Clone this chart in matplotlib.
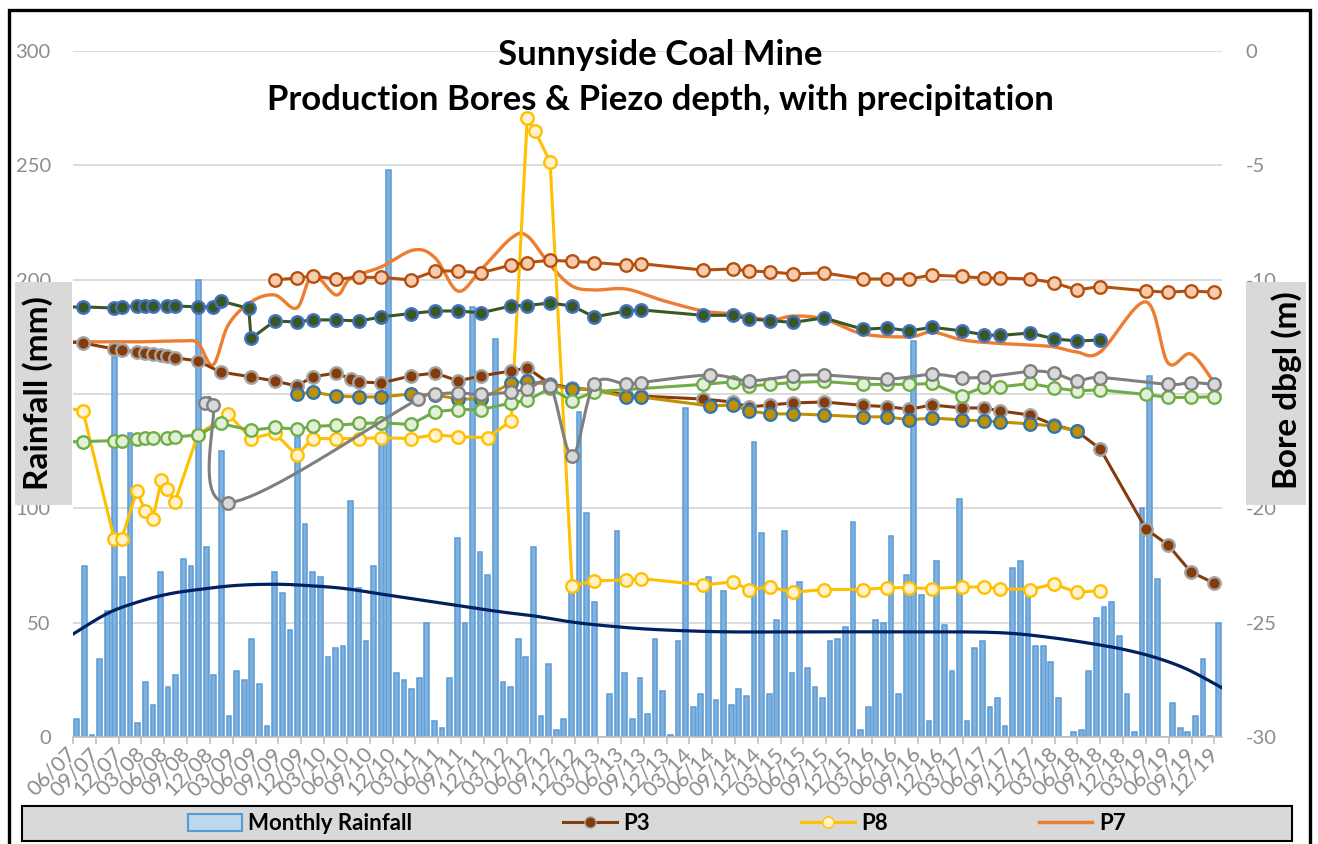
import numpy as np
import matplotlib
matplotlib.use("Agg")
import matplotlib.pyplot as plt
from matplotlib.patches import Rectangle, Patch
from matplotlib.lines import Line2D

plt.rcParams['font.family'] = ['Lato', 'DejaVu Sans']

# x axis is in months counted from June 2007 (0 = 06/07 ... 150 = 12/19)
tick_labels = ["06/07", "09/07", "12/07",
               "03/08", "06/08", "09/08", "12/08",
               "03/09", "06/09", "09/09", "12/09",
               "03/10", "06/10", "09/10", "12/10",
               "03/11", "06/11", "09/11", "12/11",
               "03/12", "06/12", "09/12", "12/12",
               "03/13", "06/13", "09/13", "12/13",
               "03/14", "06/14", "09/14", "12/14",
               "03/15", "06/15", "09/15", "12/15",
               "03/16", "06/16", "09/16", "12/16",
               "03/17", "06/17", "09/17", "12/17",
               "03/18", "06/18", "09/18", "12/18",
               "03/19", "06/19", "09/19", "12/19"]

# axis tick labels (the "150" and "-15" ones sit under the axis title boxes)
rain_ticks = [0, 50, 100, 150, 200, 250, 300]
rain_tick_labels = ["0", "50", "100", "", "200", "250", "300"]
depth_ticks = [-30, -25, -20, -15, -10, -5, 0]
depth_tick_labels = ["-30", "-25", "-20", "", "-10", "-5", "0"]

# monthly rainfall (mm), one value per month from 06/07
rain = [8, 75, 1, 34, 55, 166, 70, 133, 6, 24,
        14, 72, 22, 27, 78, 75, 200, 83, 27, 125,
        9, 29, 25, 43, 23, 5, 72, 63, 47, 131,
        93, 72, 70, 35, 39, 40, 103, 65, 42, 75,
        130, 248, 28, 25, 21, 26, 50, 7, 4, 26,
        87, 50, 188, 81, 71, 174, 24, 22, 43, 35,
        83, 9, 32, 3, 8, 65, 142, 98, 59, 0,
        19, 90, 28, 8, 26, 10, 43, 20, 1, 42,
        144, 13, 19, 70, 16, 64, 14, 21, 18, 129,
        89, 19, 51, 90, 28, 68, 30, 22, 17, 42,
        43, 48, 94, 3, 13, 51, 50, 88, 19, 71,
        173, 62, 7, 77, 49, 29, 104, 7, 39, 42,
        13, 17, 5, 74, 77, 62, 40, 40, 33, 17,
        0, 2, 3, 29, 52, 57, 59, 44, 19, 2,
        100, 158, 69, 0, 15, 4, 2, 9, 34, 0.5,
        50]

# rainfall trend line (month, mm)
trend = [(-0.5, 45), (4, 54), (8, 59), (12, 62.5), (16, 64.5), (21, 66.3), (26, 66.8),
         (30, 66.3), (35, 65), (40, 62.5), (46, 59.5), (52, 56.5), (56, 54.6), (60, 53),
         (65, 50.3), (70, 48.5), (76, 47), (85, 46), (95, 46), (105, 46), (115, 46),
         (122, 45.5), (128, 43.5), (134, 40.5), (138, 38), (142, 34.5), (146, 29.5),
         (150.5, 21.5)]

# bore / piezo depths (month, m below ground)
p3 = [(-2.0, -12.7), (0.8, -12.77), (4.9, -13.03), (5.9, -13.07), (7.9, -13.16), (9.0, -13.21),
      (10.0, -13.23), (11.1, -13.29), (11.9, -13.34), (12.9, -13.42), (15.9, -13.55),
      (18.9, -14.04), (22.9, -14.25), (26.0, -14.43), (28.9, -14.65), (31.0, -14.25),
      (34.1, -14.08), (36.0, -14.34), (37.1, -14.47), (40.0, -14.52), (43.9, -14.21),
      (47.1, -14.08), (50.1, -14.43), (53.1, -14.21), (57.1, -13.99), (59.2, -13.86),
      (62.2, -14.56), (65.1, -14.74), (68.0, -14.82), (72.2, -15.04), (74.1, -15.09),
      (82.3, -15.22), (86.2, -15.35), (88.3, -15.57), (91.1, -15.48), (94.1, -15.39),
      (98.2, -15.35), (103.3, -15.5), (106.5, -15.55), (109.4, -15.67), (112.4, -15.48),
      (116.3, -15.61), (119.2, -15.61), (121.3, -15.74), (125.3, -15.92), (128.4, -16.35),
      (131.4, -16.62), (134.5, -17.4), (140.5, -20.9), (143.4, -21.6), (146.4, -22.78),
      (149.4, -23.26)]

p8 = [(-1.5, -15.6), (0.8, -15.73), (4.9, -21.32), (5.9, -21.32), (7.9, -19.23), (9.0, -20.13),
      (10.0, -20.46), (11.1, -18.77), (11.9, -19.15), (12.9, -19.72), (15.9, -16.78),
      (19.9, -15.88), (22.9, -16.95), (26.0, -16.7), (28.9, -17.68), (31.0, -16.95),
      (34.1, -16.95), (37.1, -16.95), (40.0, -16.91), (43.9, -16.95), (47.1, -16.78),
      (50.1, -16.87), (54.0, -16.91), (57.1, -16.17), (59.2, -2.93), (60.2, -3.49),
      (62.2, -4.84), (65.1, -23.39), (68.0, -23.17), (72.2, -23.13), (74.1, -23.07),
      (82.3, -23.35), (86.2, -23.22), (88.3, -23.55), (91.1, -23.44), (94.1, -23.67),
      (98.2, -23.55), (103.3, -23.55), (106.5, -23.47), (109.4, -23.47), (112.4, -23.51),
      (116.3, -23.44), (119.2, -23.44), (121.3, -23.52), (125.3, -23.55), (128.4, -23.31),
      (131.4, -23.67), (134.5, -23.6)]

p7 = [(-2.0, -12.72), (0.8, -12.72), (7.7, -12.72), (13.7, -12.68), (15.9, -12.77),
      (17.9, -13.73), (19.9, -11.98), (22.9, -10.97), (26.0, -10.67), (28.9, -11.24),
      (31.0, -9.8), (34.1, -10.67), (36.0, -9.93), (40.0, -9.44), (44.3, -8.7),
      (47.1, -9.05), (50.1, -10.5), (53.1, -9.57), (57.1, -8.18), (59.2, -8.09),
      (62.2, -9.36), (65.1, -10.28), (68.0, -10.45), (72.2, -10.41), (76.8, -10.89),
      (82.3, -11.37), (86.2, -11.5), (91.1, -11.76), (94.1, -11.59), (98.2, -11.72),
      (103.3, -12.37), (109.4, -12.5), (112.4, -12.29), (116.3, -12.63), (120.4, -12.77),
      (125.3, -12.86), (128.4, -12.94), (131.4, -13.16), (134.5, -13.16), (140.5, -10.97),
      (143.4, -13.64), (146.4, -13.25), (149.4, -14.47)]

bore_gold = [(28.9, -15.02), (31.0, -14.91), (34.1, -15.09), (37.1, -15.13), (40.0, -15.13),
             (43.9, -15.0), (47.1, -15.04), (50.1, -15.22), (53.1, -15.22), (57.1, -14.52),
             (59.2, -14.43), (62.2, -14.6), (65.1, -14.78), (68.0, -14.82), (72.2, -15.13),
             (74.1, -15.13), (83.2, -15.52), (86.2, -15.48), (88.3, -15.74), (91.1, -15.87),
             (94.1, -15.87), (98.2, -15.92), (103.3, -16.0), (106.5, -16.0), (109.4, -16.13),
             (112.4, -16.05), (116.3, -16.13), (119.2, -16.18), (121.3, -16.22), (125.3, -16.31),
             (128.4, -16.4), (131.4, -16.62)]

bore_pink = [(26.0, -10.01), (28.9, -9.93), (31.0, -9.84), (34.1, -9.97), (37.1, -9.9),
             (40.0, -9.9), (43.9, -10.01), (47.1, -9.62), (50.1, -9.62), (53.1, -9.7),
             (57.1, -9.36), (59.2, -9.25), (62.2, -9.15), (65.1, -9.2), (68.0, -9.25),
             (72.2, -9.36), (74.1, -9.3), (82.3, -9.58), (86.2, -9.53), (88.3, -9.62),
             (91.1, -9.66), (94.1, -9.75), (98.2, -9.7), (103.3, -9.97), (106.5, -9.97),
             (109.4, -9.97), (112.4, -9.8), (116.3, -9.86), (119.2, -9.93), (121.3, -9.93),
             (125.3, -9.97), (128.4, -10.13), (131.4, -10.45), (134.5, -10.3), (140.5, -10.49),
             (143.4, -10.55), (146.4, -10.49), (149.4, -10.55)]

bore_dkgreen = [(-2.0, -11.2), (0.8, -11.19), (4.9, -11.24), (5.9, -11.19), (7.9, -11.15),
                (9.0, -11.15), (10.0, -11.15), (11.9, -11.15), (12.9, -11.15), (15.9, -11.19),
                (17.9, -11.19), (18.9, -10.93), (22.6, -11.26), (22.9, -12.57), (26.0, -11.81),
                (28.9, -11.85), (31.0, -11.76), (34.1, -11.76), (37.1, -11.81), (40.0, -11.63),
                (43.9, -11.48), (47.1, -11.37), (50.1, -11.37), (53.1, -11.45), (57.1, -11.15),
                (59.2, -11.13), (62.2, -11.02), (65.1, -11.15), (68.0, -11.63), (72.2, -11.37),
                (74.1, -11.32), (82.3, -11.56), (86.2, -11.56), (88.3, -11.72), (91.1, -11.79),
                (94.1, -11.87), (98.2, -11.67), (103.3, -12.17), (106.5, -12.11), (109.4, -12.24),
                (112.4, -12.08), (116.3, -12.24), (119.2, -12.41), (121.3, -12.44), (125.3, -12.33),
                (128.4, -12.59), (131.4, -12.68), (134.5, -12.64)]

bore_grey = [(16.8, -15.39), (17.9, -15.5), (19.9, -19.75), (44.8, -15.24), (47.1, -15.02),
             (50.1, -14.95), (53.1, -15.02), (57.1, -14.91), (59.2, -14.79), (62.2, -14.63),
             (65.1, -17.71), (68.0, -14.58), (72.2, -14.58), (74.1, -14.5), (83.2, -14.17),
             (88.3, -14.42), (94.1, -14.21), (98.2, -14.17), (106.5, -14.34), (112.4, -14.14),
             (116.3, -14.28), (119.2, -14.26), (125.3, -14.01), (128.4, -14.09), (131.4, -14.42),
             (134.5, -14.28), (143.4, -14.58), (146.4, -14.5), (149.4, -14.58)]

bore_ltgreen = [(-2.0, -17.1), (0.8, -17.08), (4.9, -17.04), (5.9, -17.04), (7.9, -16.97),
                (9.0, -16.92), (10.0, -16.92), (11.9, -16.92), (12.9, -16.88), (15.9, -16.79),
                (18.9, -16.29), (22.9, -16.59), (26.0, -16.46), (28.9, -16.54), (31.0, -16.42),
                (34.1, -16.37), (37.1, -16.29), (40.0, -16.26), (43.9, -16.33), (47.1, -15.77),
                (50.1, -15.68), (53.1, -15.68), (57.1, -15.39), (59.2, -15.28), (62.2, -14.75),
                (65.1, -15.3), (68.0, -14.9), (82.3, -14.58), (86.2, -14.47), (88.3, -14.65),
                (91.1, -14.58), (94.1, -14.5), (98.2, -14.45), (103.3, -14.58), (106.5, -14.58),
                (109.4, -14.58), (112.4, -14.54), (116.3, -15.07), (119.2, -14.69), (121.3, -14.69),
                (125.3, -14.54), (128.4, -14.73), (131.4, -14.86), (134.5, -14.82), (140.5, -15.02),
                (143.4, -15.15), (146.4, -15.15), (149.4, -15.12)]


def smooth(pts, sx, sy, n=20):
    # Excel-like smoothed line: Catmull-Rom bezier done in pixel space
    P = np.array(pts, dtype=float) * [sx, sy]
    P = np.vstack([P[0], P, P[-1]])
    out = []
    t = np.linspace(0, 1, n)[:, None]
    for i in range(1, len(P) - 2):
        p0, p1, p2, p3_ = P[i - 1], P[i], P[i + 1], P[i + 2]
        c1 = p1 + (p2 - p0) / 6
        c2 = p2 - (p3_ - p1) / 6
        seg = (1 - t) ** 3 * p1 + 3 * (1 - t) ** 2 * t * c1 + 3 * (1 - t) * t ** 2 * c2 + t ** 3 * p2
        out.append(seg if i == 1 else seg[1:])
    out = np.vstack(out)
    return out[:, 0] / sx, out[:, 1] / sy


W, H = 1318, 844
fig = plt.figure(figsize=(W / 100, H / 100), dpi=100)
ax = fig.add_axes([73 / W, 107 / H, 1149 / W, 686 / H])

grey_txt = '#8c8c8c'

# rainfall bars
months = np.arange(len(rain))
ax.bar(months, rain, width=0.62, color='#7fb1e0', edgecolor='#5b9bd5', linewidth=1.1, zorder=2)

tx, ty = smooth(trend, 7.61, 2.287)
ax.plot(tx, ty, color='#002060', lw=2.3, zorder=3)

ax.set_xlim(-0.5, 150.5)
ax.set_ylim(0, 300)
ax.set_yticks(rain_ticks)
ax.set_yticklabels(rain_tick_labels)
ax.yaxis.grid(True, color='#d9d9d9', lw=1.3)
ax.set_axisbelow(True)
for s in ['top', 'right', 'left']:
    ax.spines[s].set_visible(False)
ax.spines['bottom'].set_color('#bfbfbf')
ax.spines['bottom'].set_linewidth(1.2)
ax.set_xticks(np.arange(0, 151, 3) - 0.5)
ax.set_xticklabels(tick_labels, rotation=45, ha='right', va='center', rotation_mode='anchor',
                   fontsize=15.5, color=grey_txt)
ax.tick_params(axis='x', length=5, color='#bfbfbf', width=1.2, pad=5)
ax.tick_params(axis='y', length=0, pad=16, labelsize=14.5, labelcolor=grey_txt)

# depth axis
ax2 = ax.twinx()
ax2.set_ylim(-30, 0)
ax2.set_yticks(depth_ticks)
ax2.set_yticklabels(depth_tick_labels)
ax2.tick_params(axis='y', length=0, pad=17, labelsize=14.5, labelcolor=grey_txt)
for s in ax2.spines.values():
    s.set_visible(False)


def marked(pts, line, fill, edge, ms=9):
    x, y = zip(*pts)
    ax2.plot(x, y, color=line, lw=2.2, marker='o', ms=ms, mfc=fill, mec=edge, mew=1.7)


x7, y7 = smooth(p7, 7.61, 22.87)
ax2.plot(x7, y7, color='#ed7d31', lw=2.4)
marked(p8, '#ffc000', '#fff2cc', '#ffc000')
marked(p3, '#843c0c', '#843c0c', '#a5a5a5')
marked(bore_gold, '#bf9000', '#bf9000', '#2e75b6')
marked(bore_ltgreen, '#70ad47', '#e2f0d9', '#70ad47')
gx, gy = smooth(bore_grey, 7.61, 22.87)
ax2.plot(gx, gy, color='#7f7f7f', lw=2.2)
bx, by = zip(*bore_grey)
ax2.plot(bx, by, ls='none', marker='o', ms=9, mfc='#d9d9d9', mec='#7f7f7f', mew=1.7)
marked(bore_dkgreen, '#385723', '#385723', '#4472c4')
marked(bore_pink, '#b4500f', '#f8cbad', '#b4500f')

# title
fig.text(660 / W, 1 - 55 / H, "Sunnyside Coal Mine", ha='center', va='center',
         fontsize=25, fontweight='bold')
fig.text(660 / W, 1 - 100 / H, "Production Bores & Piezo depth, with precipitation",
         ha='center', va='center', fontsize=25, fontweight='bold')

# axis title boxes
fig.add_artist(Rectangle((15 / W, 1 - 505 / H), 57 / W, 223 / H, transform=fig.transFigure,
                         fc='#d9d9d9', ec='none', zorder=3))
fig.text(38 / W, 1 - 393 / H, "Rainfall (mm)", rotation=90, ha='center', va='center',
         fontsize=24, fontweight='bold', zorder=4)
fig.add_artist(Rectangle((1246 / W, 1 - 505 / H), 60 / W, 223 / H, transform=fig.transFigure,
                         fc='#d9d9d9', ec='none', zorder=3))
fig.text(1287 / W, 1 - 390 / H, "Bore dbgl (m)", rotation=90, ha='center', va='center',
         fontsize=24, fontweight='bold', zorder=4)

# legend strip
fig.add_artist(Rectangle((22 / W, 3 / H), 1270 / W, 35 / H, transform=fig.transFigure,
                         fc='#d9d9d9', ec='black', lw=1.5, zorder=1))
handles = [Patch(facecolor='#bdd7ee', edgecolor='#5b9bd5', lw=1.5),
           Line2D([], [], color='#843c0c', lw=2.2, marker='o', ms=8, mfc='#843c0c', mec='#a5a5a5'),
           Line2D([], [], color='#ffc000', lw=2.2, marker='o', ms=8, mfc='#fff2cc', mec='#ffc000'),
           Line2D([], [], color='#ed7d31', lw=2.5)]
fig.legend(handles, ["Monthly Rainfall", "P3", "P8", "P7"], loc='center',
           bbox_to_anchor=(657 / W, 1 - 824 / H), ncol=4, frameon=False,
           prop=dict(weight='bold', size=16), handlelength=2.4, handleheight=0.8,
           columnspacing=6.8, handletextpad=0.3)

# outer chart border
fig.add_artist(Rectangle((9 / W, -0.02), 1301 / W, 1 - 10 / H + 0.02, transform=fig.transFigure,
                         fill=False, ec='black', lw=2.4, zorder=6))

fig.savefig('out.png', dpi=100)
